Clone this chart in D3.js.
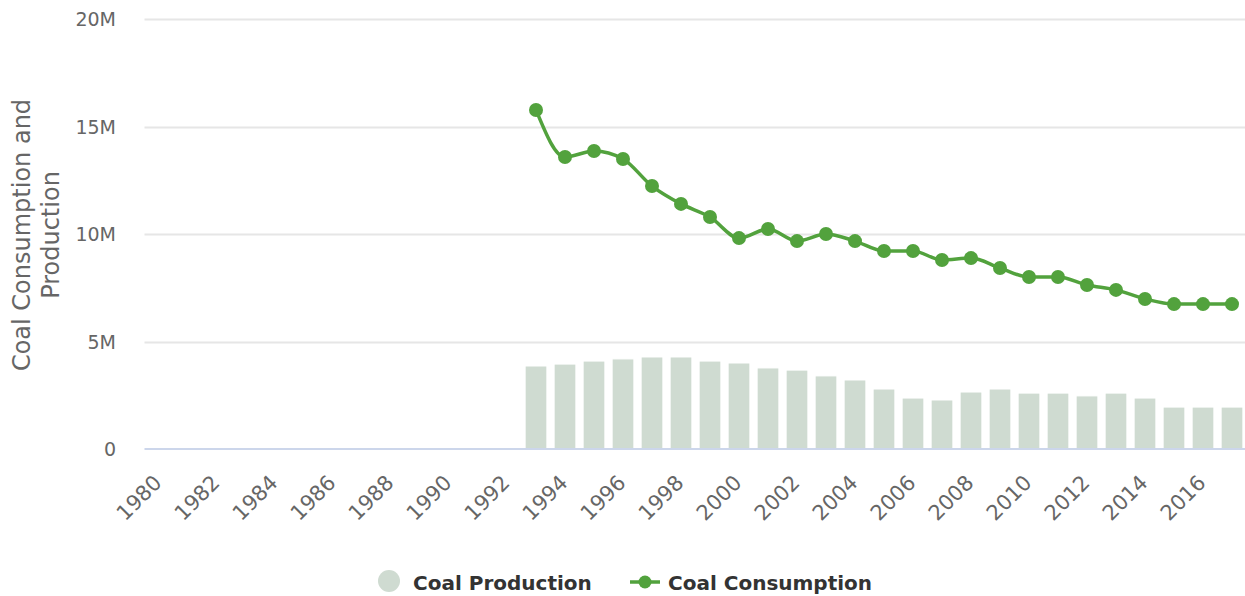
<!DOCTYPE html>
<html>
<head>
<meta charset="utf-8">
<script src="https://cdn.jsdelivr.net/npm/d3@7"></script>
<style>
  body { margin: 0; background: #fff; }
  svg { display: block; font-family: "DejaVu Sans", sans-serif; }
</style>
</head>
<body>
<svg id="chart" width="1245" height="596"></svg>
<script>
// chart data
const years = d3.range(1980, 2018);
const prodYears = d3.range(1993, 2018);
const production = [3.86, 3.95, 4.09, 4.19, 4.28, 4.28, 4.09, 4.0, 3.77, 3.67, 3.40, 3.21, 2.79,
  2.37, 2.28, 2.65, 2.79, 2.6, 2.6, 2.47, 2.6, 2.37, 1.95, 1.95, 1.95].map(v => v * 1e6);
const consumption = [15.77, 13.58, 13.86, 13.49, 12.23, 11.4, 10.79, 9.81, 10.23, 9.67, 10.0, 9.67, 9.21,
  9.21, 8.79, 8.88, 8.42, 8.0, 8.0, 7.63, 7.4, 6.98, 6.74, 6.74, 6.74].map(v => v * 1e6);
const yTicks = [0, 5e6, 10e6, 15e6, 20e6];
const xTicks = d3.range(1980, 2018, 2);

const barColor = '#cfdbd1';
const lineColor = '#52a23d';

const svg = d3.select('#chart');
const plotLeft = 144.5, plotRight = 1246.5, plotTop = 19, plotBottom = 449;

const x = d3.scaleBand()
  .domain(years)
  .range([plotLeft, plotRight])
  .paddingInner(0.25)
  .paddingOuter(0.125);
const xc = d => x(d) + x.bandwidth() / 2;

const y = d3.scaleLinear()
  .domain([0, 20e6])
  .range([plotBottom, plotTop]);

// gridlines
svg.append('g')
  .selectAll('line')
  .data(yTicks.filter(d => d > 0))
  .join('line')
  .attr('x1', plotLeft).attr('x2', 1245)
  .attr('y1', d => Math.round(y(d)) + 0.5).attr('y2', d => Math.round(y(d)) + 0.5)
  .attr('stroke', '#e6e6e6').attr('stroke-width', 2);

// y axis labels
const fmt = d => d === 0 ? '0' : (d / 1e6) + 'M';
svg.append('g')
  .selectAll('text')
  .data(yTicks)
  .join('text')
  .attr('x', 116)
  .attr('y', d => y(d) + 7)
  .attr('text-anchor', 'end')
  .attr('fill', '#666')
  .style('font-size', '19px')
  .text(fmt);

// y axis title
const title = svg.append('text')
  .attr('transform', 'translate(22,235) rotate(-90)')
  .attr('text-anchor', 'middle')
  .attr('fill', '#666')
  .style('font-size', '24px');
title.append('tspan').attr('x', 0).attr('dy', 8).text('Coal Consumption and');
title.append('tspan').attr('x', 0).attr('dy', 29).text('Production');

// bars
svg.append('g')
  .selectAll('rect')
  .data(prodYears.map((yr, i) => ({ yr, v: production[i] })))
  .join('rect')
  .attr('x', d => x(d.yr))
  .attr('width', x.bandwidth())
  .attr('y', d => y(d.v))
  .attr('height', d => plotBottom - y(d.v))
  .attr('fill', barColor)
  .attr('stroke', '#fff')
  .attr('stroke-width', 1);

// x axis line
svg.append('line')
  .attr('x1', plotLeft).attr('x2', 1245)
  .attr('y1', plotBottom).attr('y2', plotBottom)
  .attr('stroke', '#ccd6eb').attr('stroke-width', 2);

// x axis labels
svg.append('g')
  .selectAll('text')
  .data(xTicks)
  .join('text')
  .attr('transform', d => `translate(${xc(d) + 4},484) rotate(-45)`)
  .attr('text-anchor', 'end')
  .attr('fill', '#666')
  .style('font-size', '21px')
  .text(d => d);

// consumption line
const pts = prodYears.map((yr, i) => ({ yr, v: consumption[i] }));
const line = d3.line()
  .x(d => xc(d.yr))
  .y(d => y(d.v))
  .curve(d3.curveMonotoneX);

svg.append('path')
  .datum(pts)
  .attr('d', line)
  .attr('fill', 'none')
  .attr('stroke', lineColor)
  .attr('stroke-width', 3.5);

svg.append('g')
  .selectAll('circle')
  .data(pts)
  .join('circle')
  .attr('cx', d => xc(d.yr))
  .attr('cy', d => y(d.v))
  .attr('r', 7)
  .attr('fill', lineColor);

// legend
const legend = svg.append('g').style('font-size', '20px').style('font-weight', 'bold');
legend.append('circle').attr('cx', 389).attr('cy', 581).attr('r', 11).attr('fill', barColor);
legend.append('text').attr('x', 413).attr('y', 590).attr('fill', '#333').text('Coal Production');
legend.append('line').attr('x1', 630).attr('x2', 660).attr('y1', 582).attr('y2', 582)
  .attr('stroke', lineColor).attr('stroke-width', 3.5);
legend.append('circle').attr('cx', 645).attr('cy', 582).attr('r', 6.5).attr('fill', lineColor);
legend.append('text').attr('x', 668).attr('y', 590).attr('fill', '#333').text('Coal Consumption');
</script>
</body>
</html>
